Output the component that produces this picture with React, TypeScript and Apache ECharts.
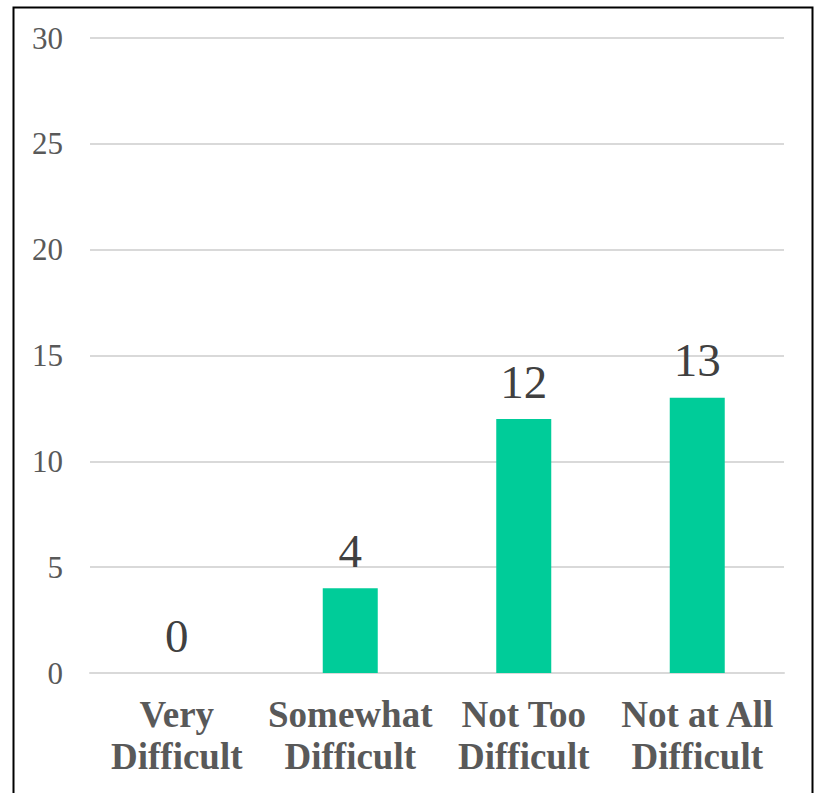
import React, { useEffect, useRef } from "react";
import * as echarts from "echarts";

const categories = ["Very\nDifficult", "Somewhat\nDifficult", "Not Too\nDifficult", "Not at All\nDifficult"];
const counts = [0, 4, 12, 13];
const yTicks = { min: 0, max: 30, interval: 5 };

const FONT = "Liberation Serif, Times New Roman, serif";

export default function App() {
  const ref = useRef<HTMLDivElement>(null);

  useEffect(() => {
    if (!ref.current) return;
    const chart = echarts.init(ref.current, null, { renderer: "svg" });
    chart.setOption({
      animation: false,
      backgroundColor: "#ffffff",
      textStyle: { fontFamily: FONT },
      graphic: [
        {
          type: "rect",
          shape: { x: 13.5, y: 7.5, width: 799, height: 800 },
          style: { fill: "none", stroke: "#000000", lineWidth: 2 },
          silent: true,
        },
      ],
      grid: { left: 90, right: 31, top: 38, bottom: 120 },
      xAxis: {
        type: "category",
        data: categories,
        axisLine: { show: true, lineStyle: { color: "#d9d9d9", width: 2 } },
        axisTick: { show: false },
        axisLabel: {
          color: "#595959",
          fontFamily: FONT,
          fontWeight: "bold",
          fontSize: 37,
          lineHeight: 42,
          margin: 20,
          interval: 0,
        },
      },
      yAxis: {
        type: "value",
        min: yTicks.min,
        max: yTicks.max,
        interval: yTicks.interval,
        axisLine: { show: false },
        axisTick: { show: false },
        splitLine: { lineStyle: { color: "#d9d9d9", width: 2 } },
        axisLabel: {
          color: "#595959",
          fontFamily: FONT,
          fontSize: 31,
          margin: 27,
        },
      },
      series: [
        {
          type: "bar",
          data: counts,
          barWidth: 55,
          itemStyle: { color: "#00cc99" },
          label: {
            show: true,
            position: "top",
            distance: 14,
            color: "#404040",
            fontFamily: FONT,
            fontSize: 47,
          },
        },
      ],
    });
    return () => chart.dispose();
  }, []);

  return (
    <div
      ref={ref}
      style={{ position: "absolute", left: 0, top: 0, width: 815, height: 793 }}
    />
  );
}
